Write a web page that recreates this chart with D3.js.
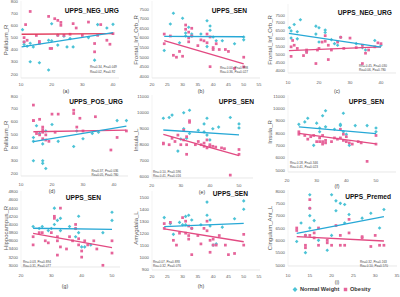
<!DOCTYPE html>
<html><head><meta charset="utf-8">
<script src="https://cdn.jsdelivr.net/npm/d3@7"></script>
<style>body{margin:0;background:#fff}svg{display:block}</style>
</head><body>
<svg id="c" width="400" height="297"></svg>
<script>
// ---------- DATA ----------
const negN = [10.5, 11, 11, 12, 13, 13, 14, 16, 19, 19, 20, 20, 22, 22, 24, 25, 26, 27, 32, 34, 35, 38, 40];
const negO = [11, 11, 11.5, 12, 13, 15, 16, 16, 19, 19.5, 20, 21, 22, 22, 23, 23, 24, 26, 27, 28, 30, 32, 34, 34, 35, 36, 38, 39, 40];
const posN = [14, 14, 14, 15, 16, 17, 17, 17, 18, 18, 20, 22, 27, 28, 30, 33, 35, 41, 44];
const posO = [14, 14, 14, 15, 16, 16, 17, 17, 17, 17, 18, 18, 19, 20, 21, 22, 27, 27, 28, 29, 30, 34, 39, 41, 44];
const senN = [24, 26, 27, 29, 30, 31, 31, 32, 33, 33, 36, 38, 38, 39, 39, 40, 41, 43, 47, 50, 50];
const senO = [24, 24, 26, 27, 28, 29, 30, 31, 31, 32, 32, 32, 33, 33, 35, 36, 37, 38, 38, 39, 39, 40, 40, 41, 42, 44, 45, 47, 50, 50];
const preN = [12, 13, 14, 14, 15, 15, 15, 15, 16, 17, 19, 20, 20, 21, 21, 22, 23, 23, 24, 27, 29, 31, 32];
const preO = [12, 12, 14, 14, 14, 15, 15, 15, 16, 16, 17, 17, 19, 19, 20, 21, 22, 22, 23, 24, 24, 27, 27, 29, 30, 31, 32];

const aN = [568, 466, 445, 430, 455, 302, 425, 293, 233, 480, 617, 475, 521, 440, 513, 425, 494, 425, 502, 315, 610, 582, 612];
const aO = [502, 466, 610, 480, 719, 520, 470, 455, 678, 412, 412, 659, 645, 521, 628, 604, 521, 530, 618, 582, 520, 631, 453, 384, 521, 610, 480, 447, 535];
const bN = [5350, 6720, 7280, 5750, 7020, 6250, 6100, 6550, 6200, 6100, 6200, 5550, 6890, 6620, 6400, 6050, 5850, 5850, 5700, 5900, 6050];
const bO = [5700, 6200, 6100, 5100, 5000, 5300, 5050, 6670, 6450, 6300, 6000, 5800, 6500, 6100, 5600, 5900, 5850, 5750, 6200, 4510, 6050, 5500, 5400, 5700, 5400, 5400, 5300, 4420, 4500, 5000];
const cN = [6700, 6500, 6050, 6900, 6000, 6450, 7200, 5200, 6800, 6300, 6700, 5800, 6550, 6400, 5950, 5700, 5600, 6100, 5700, 5450, 5300, 5900, 5600];
const cO = [4900, 5500, 5900, 5600, 5400, 4950, 5150, 5300, 4450, 5300, 5400, 5800, 5850, 6200, 4700, 5600, 5300, 5800, 6100, 5400, 6050, 5450, 4450, 5600, 5100, 5300, 5500, 5750, 5700];
const dN = [480, 300, 450, 570, 510, 300, 280, 430, 240, 530, 580, 450, 410, 530, 470, 510, 520, 610, 610];
const dO = [730, 610, 610, 510, 620, 500, 560, 520, 540, 470, 460, 500, 450, 660, 520, 660, 690, 665, 560, 628, 530, 640, 383, 480, 530];
const eN = [9650, 9700, 9850, 7600, 8350, 10000, 9000, 8400, 10150, 8700, 8900, 8800, 9300, 9650, 8600, 8300, 9000, 9100, 9700, 9300, 9050];
const eO = [8100, 8050, 8000, 8400, 8200, 8600, 8000, 8300, 8900, 8500, 7400, 8000, 9500, 9400, 8000, 8200, 8000, 7900, 8100, 7800, 8300, 7900, 8000, 7900, 7850, 7800, 7750, 6100, 7400, 7700];
const fN = [8700, 8900, 9200, 7000, 8800, 8400, 8100, 9400, 9800, 8500, 8300, 8600, 8700, 9600, 8100, 7900, 7000, 8600, 8600, 8400, 8100];
const fO = [8100, 7900, 7800, 7500, 7700, 7800, 7300, 7600, 7300, 7800, 7100, 7300, 7400, 7200, 7300, 7600, 7500, 7600, 8300, 7400, 7900, 7700, 7300, 7200, 7100, 7300, 7200, 5700, 7100, 7800];
const gN = [3950, 3900, 3950, 3850, 3900, 4400, 4000, 4100, 4150, 3850, 3950, 3900, 3700, 4200, 3800, 3450, 3450, 3500, 3800, 4300, 4100];
const gO = [3700, 3500, 3800, 3800, 3600, 3550, 3800, 4200, 4150, 3700, 3600, 3250, 4400, 3450, 3400, 3700, 3600, 3900, 4000, 3650, 3500, 3350, 3200, 3600, 3500, 3600, 3400, 3000, 3300, 3600];
const hN = [1330, 1280, 1190, 1290, 1270, 1340, 1270, 1350, 1240, 1310, 1270, 1460, 1350, 1310, 1260, 1100, 1110, 1250, 1320, 1470, 1400];
const hO = [1240, 1280, 1290, 1140, 1100, 1200, 1330, 1300, 1200, 1260, 1180, 1150, 1020, 1240, 1180, 1110, 1240, 1300, 1220, 1140, 1040, 1150, 1100, 1100, 1180, 1100, 1020, 1030, 1100, 1190];
const iN = [5950, 6700, 5500, 6200, 7850, 7300, 7000, 6500, 6800, 6000, 5600, 7850, 6200, 7600, 7200, 7500, 7450, 6700, 7050, 6900, 7100, 6500, 7250];
const iO = [6400, 6500, 5700, 5800, 6200, 7650, 7300, 6200, 6300, 6100, 5800, 6500, 5900, 6000, 5800, 6600, 5800, 6200, 5800, 6300, 6850, 6150, 6100, 5750, 6200, 5800, 5800];

const fitN = {a:[10.2,425,40,543], b:[24,6080,50,6060], c:[10.3,6350,40,5480], d:[14,447,44,568], e:[24,8920,50,8610], f:[24,8500,50,7950], g:[24,3907,50,3882], h:[24,1254,50,1282], i:[12,6285,32,6958]};
const fitO = {a:[10.2,530,40,535], b:[24,5860,50,4650], c:[10.3,5260,40,5500], d:[14,524,44,537], e:[24,8650,50,7310], f:[24,7970,50,7120], g:[24,3784,50,3431], h:[24,1235,50,1128], i:[12,6148,32,5973]};

const stats = {
  a:["Rn=0.34, Pn=0.049","Ro=0.02, Po=0.92"],
  b:["Rn=-0.00, Pn=0.998","Ro=-0.36, Po=0.027"],
  c:["Rn=-0.45, Pn=0.030","Ro=0.06, Po=0.780"],
  d:["Rn=0.37, Pn=0.036","Ro=0.05, Po=0.780"],
  e:["Rn=-0.10, Pn=0.596","Ro=-0.41, Po=0.016"],
  f:["Rn=-0.18, Pn=0.346","Ro=-0.41, Po=0.023"],
  g:["Rn=-0.03, Pn=0.894","Ro=-0.31, Po=0.077"],
  h:["Rn=0.07, Pn=0.893","Ro=-0.32, Po=0.076"],
  i:["Rn=0.32, Pn=0.163","Ro=-0.10, Po=0.570"]
};

const tk10_40 = [10, 20, 30, 40];
const tk20_50 = [20, 30, 40, 50];
const tk20_55 = [20, 25, 30, 35, 40, 45, 50, 55];
const tk10_35 = [10, 15, 20, 25, 30, 35];
const tkPall = [200, 300, 400, 500, 600, 700, 800];
const tkFront = [4000, 4500, 5000, 5500, 6000, 6500, 7000, 7500];
const tkInsL = [6000, 7000, 8000, 9000, 10000, 11000];
const tkInsR = [5000, 6000, 7000, 8000, 9000, 10000, 11000];
const tkHip = [3000, 3200, 3400, 3600, 3800, 4000, 4200, 4400, 4600, 4800];
const tkAmy = [900, 1000, 1100, 1200, 1300, 1400, 1500];
const tkCing = [5000, 5500, 6000, 6500, 7000, 7500, 8000];

const titles = {a:"UPPS_NEG_URG", b:"UPPS_SEN", c:"UPPS_NEG_URG", d:"UPPS_POS_URG", e:"UPPS_SEN", f:"UPPS_SEN", g:"UPPS_SEN", h:"UPPS_SEN", i:"UPPS_Premed"};
const yLabels = {a:"Pallidum_R", b:"Frontal_Inf_Orb_R", c:"Frontal_Inf_Orb_R", d:"Pallidum_R", e:"Insula_L", f:"Insula_R", g:"Hippocampus_R", h:"Amygdala_L", i:"Cingulum_Ant_L"};
const legendLabels = ["Normal Weight", "Obesity"];

// ---------- LAYOUT ----------
const panels = [
 {k:"a", xN:negN, yN:aN, xO:negO, yO:aO, xt:tk10_40, yt:tkPall,
  box:[21,1,119,78], xd:[10,40], xr:[21,113], yd:[200,800], yr:[74,1.7],
  xlabY:84.5, capX:66, capY:91, titleX:119, titleY:11, st:[90,67,71.5], yl:[6,40]},
 {k:"b", xN:senN, yN:bN, xO:senO, yO:bO, xt:tk20_55, yt:tkFront,
  box:[152,1,260,78], xd:[20,55], xr:[152,259], yd:[4000,7500], yr:[76.5,9],
  xlabY:84.5, capX:201, capY:91, titleX:247, titleY:11, st:[220,68,72], yl:[136,40]},
 {k:"c", xN:negN, yN:cN, xO:negO, yO:cO, xt:tk10_40, yt:tkFront,
  box:[288,4,396,73], xd:[10,40], xr:[288,381], yd:[4000,7500], yr:[70.7,15],
  xlabY:82, capX:337, capY:91, titleX:392, titleY:12.5, st:[359,66,70], yl:[270,40]},
 {k:"d", xN:posN, yN:dN, xO:posO, yO:dO, xt:tk10_40, yt:tkPall,
  box:[21,95,128,176], xd:[10,40], xr:[21,114], yd:[200,800], yr:[173.7,96],
  xlabY:184.5, capX:52, capY:191.5, titleX:123, titleY:102, st:[91.5,170.5,174.5], yl:[6,136]},
 {k:"e", xN:senN, yN:eN, xO:senO, yO:eO, xt:tk20_50, yt:tkInsL,
  box:[152,95,253,178], xd:[20,50], xr:[151.7,239], yd:[6000,11000], yr:[176.7,96.7],
  xlabY:185.5, capX:202, capY:192, titleX:254, titleY:102, st:[153,171.5,175.5], yl:[136,140]},
 {k:"f", xN:senN, yN:fN, xO:senO, yO:fO, xt:tk20_50, yt:tkInsR,
  box:[288,95,396,172], xd:[20,50], xr:[287,376], yd:[5000,11000], yr:[170,96],
  xlabY:180.5, capX:337, capY:186.5, titleX:384, titleY:102, st:[290,163,167], yl:[270,132]},
 {k:"g", xN:senN, yN:gN, xO:senO, yO:gO, xt:tk20_50, yt:tkHip,
  box:[21,191,120,267], xd:[20,50], xr:[21,112], yd:[3000,4800], yr:[265.3,191.8],
  xlabY:275.5, capX:65, capY:286, titleX:101, titleY:198, st:[23,262,266], yl:[6,228]},
 {k:"h", xN:senN, yN:hN, xO:senO, yO:hO, xt:tk20_55, yt:tkAmy,
  box:[152,191,260,270], xd:[20,55], xr:[152,259], yd:[900,1500], yr:[269,197.3],
  xlabY:276.5, capX:201, capY:286, titleX:248, titleY:193.5, st:[153,262,266], yl:[136,228]},
 {k:"i", xN:preN, yN:iN, xO:preO, yO:iO, xt:tk10_35, yt:tkCing,
  box:[288,190,397,266], xd:[10,35], xr:[288,397], yd:[5000,8000], yr:[265,191],
  xlabY:275.5, capX:337, capY:282, titleX:391, titleY:197, st:[360,261.5,265.5], yl:[270,228]}
];

const CN = "#4cc3d6", CNL = "#27a8d6", CO = "#e6649a", COL = "#e24a82";
const svg = d3.select("#c");
const F = "'Liberation Sans', Arial, sans-serif";
const FN = "'Liberation Sans Narrow', 'Liberation Sans', Arial, sans-serif";
const diamond = d3.symbol(d3.symbolSquare, 6.5);
const square = d3.symbol(d3.symbolSquare, 7.5);

panels.forEach(p => {
  const x = d3.scaleLinear().domain(p.xd).range(p.xr);
  const y = d3.scaleLinear().domain(p.yd).range(p.yr);
  const g = svg.append("g");
  const [l,t,r,b] = p.box;
  g.append("line").attr("x1",l).attr("x2",r).attr("y1",b).attr("y2",b).attr("stroke","#d9d9d9").attr("stroke-width",0.6);
  g.append("line").attr("x1",l).attr("x2",l).attr("y1",t).attr("y2",b).attr("stroke","#e6e6e6").attr("stroke-width",0.5);
  g.selectAll(".yt").data(p.yt).join("text").attr("x", l-3).attr("y", d=>y(d)).attr("dy","0.35em")
    .attr("text-anchor","end").attr("font-family",F).attr("font-size",4.3).attr("fill","#595959").text(d=>d);
  g.selectAll(".xt").data(p.xt).join("text").attr("x", d=>x(d)).attr("y", p.xlabY).attr("dy","0.35em")
    .attr("text-anchor","middle").attr("font-family",F).attr("font-size",4.3).attr("fill","#595959").text(d=>d);
  g.selectAll(".pn").data(p.xN.map((v,i)=>[v,p.yN[i]])).join("path").attr("d",diamond)
    .attr("transform",d=>`translate(${x(d[0])},${y(d[1])}) rotate(45)`).attr("fill",CN);
  g.selectAll(".po").data(p.xO.map((v,i)=>[v,p.yO[i]])).join("path").attr("d",square)
    .attr("transform",d=>`translate(${x(d[0])},${y(d[1])})`).attr("fill",CO);
  const ln = fitN[p.k], lo = fitO[p.k];
  g.append("line").attr("x1",x(lo[0])).attr("y1",y(lo[1])).attr("x2",x(lo[2])).attr("y2",y(lo[3]))
    .attr("stroke", p.k === "a" ? "#e23c5c" : COL).attr("stroke-width",1.3);
  g.append("line").attr("x1",x(ln[0])).attr("y1",y(ln[1])).attr("x2",x(ln[2])).attr("y2",y(ln[3]))
    .attr("stroke",CNL).attr("stroke-width",1.3);
  g.append("text").attr("x",p.titleX).attr("y",p.titleY).attr("dy","0.35em").attr("text-anchor","end")
    .attr("font-family",FN).attr("font-weight","bold").attr("font-size",6.6).attr("fill","#111").text(titles[p.k]);
  stats[p.k].forEach((s,i)=>{
    g.append("text").attr("x",p.st[0]).attr("y",p.st[1+i]).attr("dy","0.35em")
      .attr("font-family",F).attr("font-size",3.1).attr("fill","#444").text(s);
  });
  g.append("text").attr("x",p.capX).attr("y",p.capY).attr("dy","0.35em").attr("text-anchor","middle")
    .attr("font-family",F).attr("font-size",5.2).attr("fill","#404040").text("(" + p.k + ")");
  g.append("text").attr("transform",`translate(${p.yl[0]},${p.yl[1]}) rotate(-90)`).attr("dy","0.35em")
    .attr("text-anchor","middle").attr("font-family",F).attr("font-size",6).attr("fill","#595959").text(yLabels[p.k]);
});

const lg = svg.append("g");
lg.append("path").attr("d", d3.symbol(d3.symbolSquare, 12)).attr("transform","translate(295,289.5) rotate(45)").attr("fill",CN);
lg.append("text").attr("x",300).attr("y",289.5).attr("dy","0.35em").attr("font-family",F).attr("font-weight","bold")
  .attr("font-size",5.6).attr("fill","#333").text(legendLabels[0]);
lg.append("path").attr("d", d3.symbol(d3.symbolSquare, 12)).attr("transform","translate(345.5,289.5)").attr("fill",CO);
lg.append("text").attr("x",350).attr("y",289.5).attr("dy","0.35em").attr("font-family",F).attr("font-weight","bold")
  .attr("font-size",5.6).attr("fill","#333").text(legendLabels[1]);
</script>
</body></html>
